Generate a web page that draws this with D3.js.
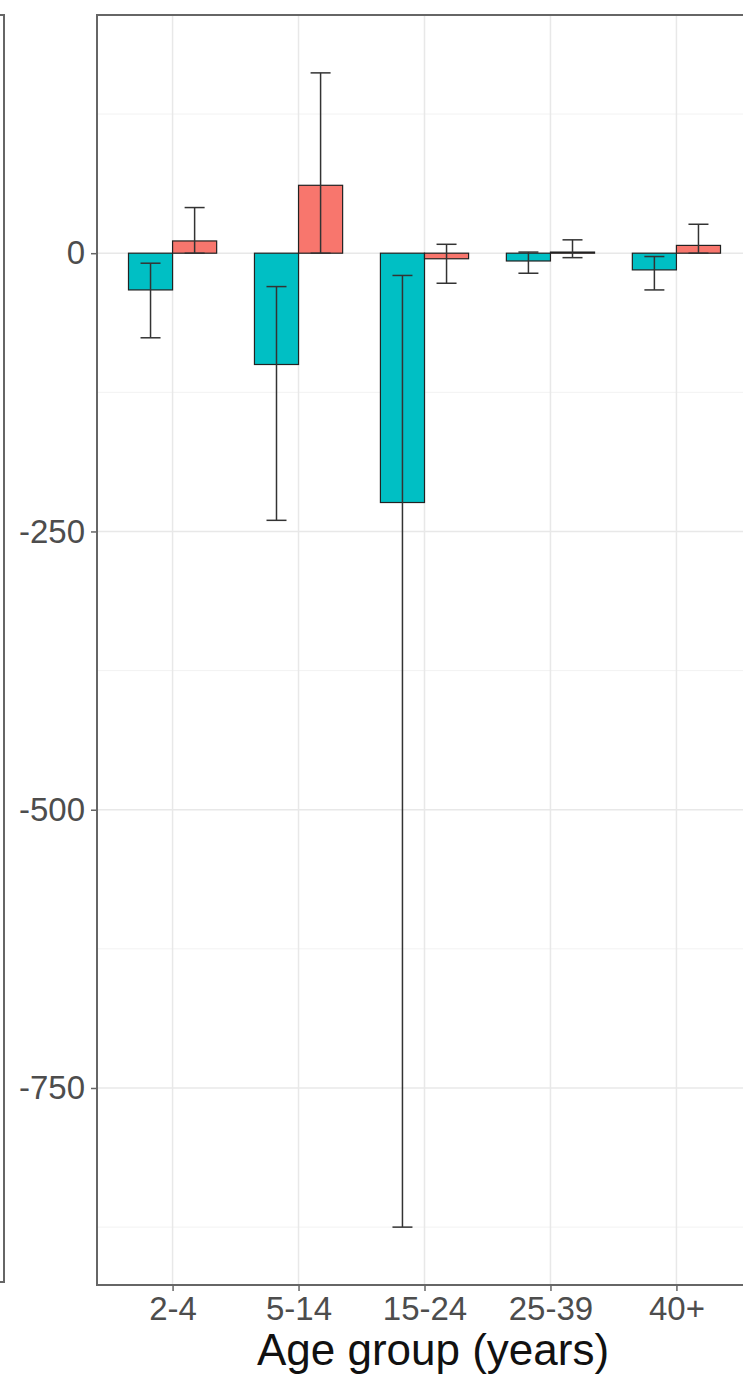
<!DOCTYPE html>
<html>
<head>
<meta charset="utf-8">
<script src="https://cdn.jsdelivr.net/npm/d3@7"></script>
<style>
    body { margin: 0; background: #fff; }
    text { font-family: "Liberation Sans", Arial, sans-serif; }
</style>
</head>
<body>
<svg id="chart-svg" width="743" height="1377"></svg>
<script>
// data
const ageGroups = ['2-4', '5-14', '15-24', '25-39', '40+'];

const tealMean  = [-33, -100, -224, -7, -15];
const tealLower = [-76, -240, -875, -18, -33];
const tealUpper = [-9, -30, -20, 1, -3];

const redMean  = [11, 61, -5, 1, 7];
const redLower = [0, 0, -27, -4, 0];
const redUpper = [41, 162, 8, 12, 26];

const yTicks = [0, -250, -500, -750];
const yMinorTicks = [125, -125, -375, -625, -875];

const series = [
    { name: 'teal', color: '#00BFC4', mean: tealMean, lower: tealLower, upper: tealUpper, side: -1 },
    { name: 'red', color: '#F8766D', mean: redMean, lower: redLower, upper: redUpper, side: 1 }
];

let svg = d3.select('#chart-svg');

const panel = { left: 97, right: 752, top: 15, bottom: 1285 };

let xScale = d3.scalePoint()
    .domain(ageGroups)
    .range([panel.left, panel.right])
    .padding(0.6);

let yScale = d3.scaleLinear()
    .domain([-927, 214])
    .range([panel.bottom, panel.top]);

const step = xScale.step();
const barW = step * 0.35;
const capW = 20;

// edge of the neighbouring panel on the left
svg.append('rect')
    .attr('x', -400).attr('y', panel.top)
    .attr('width', 404).attr('height', 1267)
    .attr('fill', 'none')
    .attr('stroke', '#666')
    .attr('stroke-width', 2);

let g = svg.append('g');

// grid
g.selectAll('.minor').data(yMinorTicks).enter().append('line')
    .attr('x1', panel.left).attr('x2', panel.right)
    .attr('y1', d => yScale(d)).attr('y2', d => yScale(d))
    .attr('stroke', '#f2f2f2').attr('stroke-width', 1);

g.selectAll('.major').data(yTicks).enter().append('line')
    .attr('x1', panel.left).attr('x2', panel.right)
    .attr('y1', d => yScale(d)).attr('y2', d => yScale(d))
    .attr('stroke', '#e8e8e8').attr('stroke-width', 1.5);

g.selectAll('.vmajor').data(ageGroups).enter().append('line')
    .attr('x1', d => xScale(d)).attr('x2', d => xScale(d))
    .attr('y1', panel.top).attr('y2', panel.bottom)
    .attr('stroke', '#e8e8e8').attr('stroke-width', 1.5);

// bars
series.forEach(s => {
    let bars = ageGroups.map((c, i) => ({ c: c, v: s.mean[i] }));
    g.selectAll('.bar-' + s.name).data(bars).enter().append('rect')
        .attr('x', d => s.side < 0 ? xScale(d.c) - barW : xScale(d.c))
        .attr('y', d => yScale(Math.max(0, d.v)))
        .attr('width', barW)
        .attr('height', d => Math.max(1, Math.abs(yScale(d.v) - yScale(0))))
        .attr('fill', s.color)
        .attr('stroke', '#222')
        .attr('stroke-width', 1.2);
});

// error bars
series.forEach(s => {
    let errs = ageGroups.map((c, i) => ({ c: c, lo: s.lower[i], hi: s.upper[i] }));
    let cx = d => xScale(d.c) + s.side * barW / 2;
    let eg = g.selectAll('.err-' + s.name).data(errs).enter().append('g');
    eg.append('line')
        .attr('x1', cx).attr('x2', cx)
        .attr('y1', d => yScale(d.hi)).attr('y2', d => yScale(d.lo));
    eg.append('line')
        .attr('x1', d => cx(d) - capW / 2).attr('x2', d => cx(d) + capW / 2)
        .attr('y1', d => yScale(d.hi)).attr('y2', d => yScale(d.hi));
    eg.append('line')
        .attr('x1', d => cx(d) - capW / 2).attr('x2', d => cx(d) + capW / 2)
        .attr('y1', d => yScale(d.lo)).attr('y2', d => yScale(d.lo));
    eg.selectAll('line').attr('stroke', '#333').attr('stroke-width', 1.5);
});

// panel border
svg.append('rect')
    .attr('x', panel.left).attr('y', panel.top)
    .attr('width', panel.right - panel.left)
    .attr('height', panel.bottom - panel.top)
    .attr('fill', 'none')
    .attr('stroke', '#666')
    .attr('stroke-width', 2);

// axes
const yAxisGroup = svg.append('g')
    .attr('transform', 'translate(' + panel.left + ',0)')
    .call(d3.axisLeft(yScale).tickValues(yTicks).tickFormat(d => String(d))
        .tickSize(6).tickPadding(6).tickSizeOuter(0));
yAxisGroup.select('.domain').remove();
yAxisGroup.selectAll('.tick line').attr('stroke', '#666').attr('stroke-width', 1.5);
yAxisGroup.selectAll('.tick text')
    .attr('fill', '#4d4d4d')
    .style('font-size', '33px')
    .style('font-family', '"Liberation Sans", Arial, sans-serif');

const xAxisGroup = svg.append('g')
    .attr('transform', 'translate(0,' + panel.bottom + ')')
    .call(d3.axisBottom(xScale).tickSize(6).tickPadding(6).tickSizeOuter(0));
xAxisGroup.select('.domain').remove();
xAxisGroup.selectAll('.tick line').attr('stroke', '#666').attr('stroke-width', 1.5);
xAxisGroup.selectAll('.tick text')
    .attr('fill', '#4d4d4d')
    .style('font-size', '33px')
    .style('font-family', '"Liberation Sans", Arial, sans-serif');

svg.append('text')
    .attr('x', 433)
    .attr('y', 1365)
    .attr('text-anchor', 'middle')
    .attr('fill', '#111')
    .style('font-size', '44px')
    .text('Age group (years)');
</script>
</body>
</html>
